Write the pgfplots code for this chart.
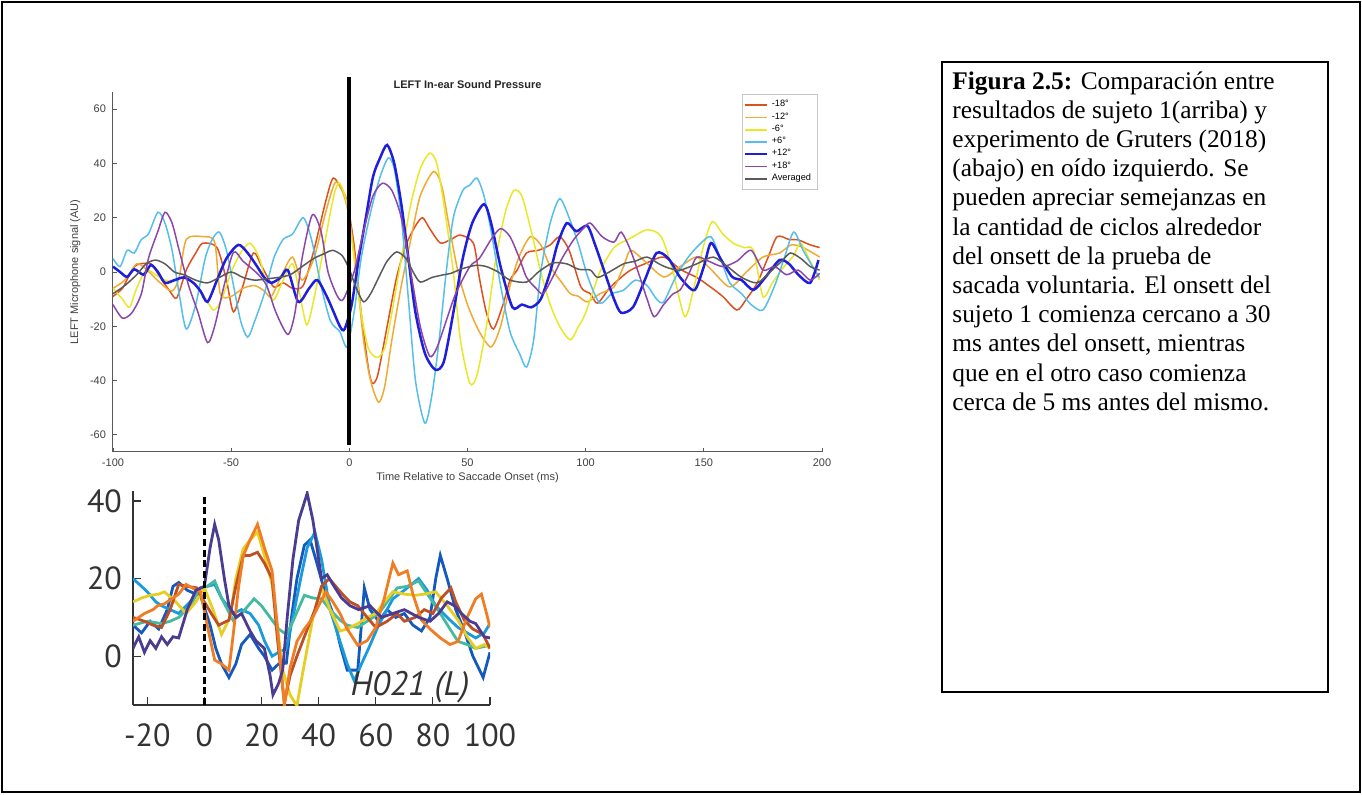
\documentclass[border=0pt]{standalone}
\usepackage{pgfplots}
\pgfplotsset{compat=1.18}
\usepackage{fontspec}
\setmainfont{Liberation Serif}
\newfontfamily\helv{Liberation Sans}
\newfontfamily\myr{PT Sans}

% top chart (MATLAB-like colours)
\definecolor{mA}{RGB}{220,80,30}
\definecolor{mB}{RGB}{240,170,50}
\definecolor{mC}{RGB}{232,232,40}
\definecolor{mD}{RGB}{85,190,235}
\definecolor{mE}{RGB}{30,30,220}
\definecolor{mF}{RGB}{140,70,170}
\definecolor{mG}{RGB}{90,90,90}
% bottom chart (parula-like)
\definecolor{pA}{RGB}{75,60,145}
\definecolor{pB}{RGB}{20,90,190}
\definecolor{pC}{RGB}{25,155,220}
\definecolor{pD}{RGB}{70,185,160}
\definecolor{pE}{RGB}{232,205,35}
\definecolor{pF}{RGB}{240,125,35}
\definecolor{pG}{RGB}{190,80,40}

\begin{document}
\begin{tikzpicture}[x=1pt,y=1pt]
\useasboundingbox (0,0) rectangle (681,397);
\draw[line width=0.8pt] (1,1) rectangle (680,396);

% caption box
\draw[line width=0.8pt] (471,51) rectangle (664,366);
\node[anchor=north west, inner sep=0pt, align=left, font=\fontsize{12.7}{14.6}\selectfont] at (476,361.5) {%
\textbf{Figura 2.5:} Comparación entre\\
resultados de sujeto 1(arriba) y\\
experimento de Gruters (2018)\\
(abajo) en oído izquierdo. Se\\
pueden apreciar semejanzas en\\
la cantidad de ciclos alrededor\\
del onsett de la prueba de\\
sacada voluntaria. El onsett del\\
sujeto 1 comienza cercano a 30\\
ms antes del onsett, mientras\\
que en el otro caso comienza\\
cerca de 5 ms antes del mismo.};

% ---------------- top chart ----------------
\begin{axis}[
    at={(56.5pt,171pt)}, anchor=south west,
    scale only axis, width=354.5pt, height=180pt,
    axis lines=left, axis line style={-, gray!70!black, line width=0.5pt},
    xmin=-100, xmax=200, ymin=-66.3, ymax=66.3,
    xtick={-100,-50,...,200}, ytick={-60,-40,...,60},
    tick align=inside, major tick length=2.2pt,
    tick style={gray!70!black, line width=0.4pt},
    ticklabel style={font=\helv\fontsize{5.5}{6}\selectfont, text=black!75},
    /pgf/number format/assume math mode=true,
    xlabel={Time Relative to Saccade Onset (ms)},
    ylabel={LEFT Microphone signal (AU)},
    label style={font=\helv\fontsize{5.5}{6}\selectfont, text=black!75},
    xlabel style={yshift=4pt},
    ylabel style={yshift=-2pt},
    clip=false,
    legend style={at={(0.887,0.994)}, anchor=north west, draw=gray!45,
        font=\helv\fontsize{4.6}{5}\selectfont, inner sep=1pt,
        row sep=-2.6pt, legend cell align=left},
    legend image code/.code={\draw[#1, line width=0.8pt] (0pt,0pt) -- (11pt,0pt);},
    every axis plot/.append style={line width=0.75pt, smooth, tension=0.45},
]
\addplot[color=mA] coordinates {
(-100,-9)(-96,-6)(-93,-1)(-90,2.6)(-84,3)(-80,-2)(-76,-7)(-73,-9.5)(-69,0.7)(-65,7)
(-62,10.6)(-56,9)(-52,-3)(-49,-14.7)(-45,-5)(-40.6,7)(-37,2)(-32,-5.5)(-28,-4)(-24,-6)
(-19.5,-5)(-15,8)(-10,26)(-6.8,34.6)(-3,30)(-1,26)(2,10)(5,-15)(8,-35)(9.7,-41)
(12,-38)(16,-20)(20,-2)(24,10)(28,17)(31,20)(34,16)(38.5,10.7)(43,12)(47,13.6)
(52.5,10.6)(55,-2)(58,-15)(61,-21)(65,-12)(68,-3)(71,0.7)(75,7)(80,8)(85,10)
(89,13)(93,8)(98,-5.5)(102,-8)(105,-11.5)(110,-6)(115,-2)(119,0.7)(125,3)(133,5.5)
(140,1)(147,-2)(152,-5)(158,-9)(164,-14)(168,-10)(172.6,-4)(177,5)(181,13)(186,12)
(190,11.8)(195,10)(199,9)};
\addlegendentry{-18°}
\addplot[color=mB] coordinates {
(-100,-6)(-95,-3)(-90,3)(-86,1)(-80,-4)(-75,-7)(-72,-2)(-69,12)(-62,13)(-57,11)
(-54.6,-8)(-50,-9)(-45,-6)(-40,-5)(-36,-7)(-33,-9)(-28,0)(-24,5.5)(-20,-3)(-15,5)
(-10,22)(-6,33)(-3,30)(0,20)(3,0)(6,-25)(9,-40)(12.4,-48)(15,-42)(18,-25)
(22,-5)(26,12)(30,28)(35.6,37)(39,32)(42,18)(46,0)(50,-12)(55,-22)(60,-27.6)
(64,-20)(68,-5)(72,6)(76.6,13)(81,10)(85,2)(90,-4)(93.5,-8)(97,-9)(100.7,-11)
(106,-8)(112,-5.5)(116,2)(119,8)(125,4)(133,-1.8)(140,2)(147,5.5)(153,1)(161,-5.5)
(168,0)(175,5.5)(182,7)(187,10)(192,9)(199,5.5)};
\addlegendentry{-12°}
\addplot[color=mC] coordinates {
(-100,-6)(-96,-10)(-93,-13)(-90,-6)(-86,0.7)(-82,-1)(-78,-3)(-74,-3)(-70,-2)(-66,-4)
(-62,-8)(-57.5,-14)(-54,-10)(-50,0)(-46,7)(-42,10.6)(-38,5)(-35,-5)(-32,-10.3)(-28,-3)
(-24,3)(-21,-8)(-18,-19.5)(-15,-10)(-11,8)(-8,22)(-6,30)(-4,32.7)(-1,25)(2,5)
(5,-15)(8,-28)(11.7,-31.5)(15,-28)(18,-15)(22,5)(26,25)(30,38)(34,43.8)(37,40)
(40,25)(44,0)(47,-25)(51,-41)(54,-38)(58,-20)(62,5)(66,22)(69.6,30)(73,28)
(77,15)(81,0)(85,-12)(89,-20)(93.5,-25)(97,-20)(100,-15)(106,0)(112,9)(118,12)
(126,15.5)(132,13)(137,0)(142,-16.5)(146,-5)(150,10)(153.6,18.6)(158,14)(162.5,10.6)(167,9)
(171,8)(175,-9)(179,-4)(184,2)(188,6)(191,10.6)(195,4)(199,-3)};
\addlegendentry{-6°}
\addplot[color=mD] coordinates {
(-100,5)(-97,2)(-94,8)(-91,7)(-88,12)(-85,14)(-81,22)(-78,18)(-75,8)(-72,-8)
(-69,-21)(-65,-12)(-61,5)(-58,12)(-55,14.7)(-52,8)(-49,-5)(-46,-18)(-43,-24)(-40,-18)
(-36,-8)(-32,5)(-28,12)(-24,14)(-19.5,20)(-16,12)(-12,-5)(-8,-18)(-4,-22)(-1,-27.6)
(2,-15)(5,5)(9,22)(13,35)(16.5,42)(19,38)(22,20)(25,-10)(28,-40)(32,-55.7)
(35,-45)(38,-25)(41,0)(44,20)(48,30)(51,32)(54,34.6)(57,28)(60,15)(64,-5)
(68,-22)(72,-30)(75,-35)(78,-25)(81,0)(85,18)(89,27)(93,20)(97,10)(101,-2)
(106,-11.5)(111,-8)(116,-6.7)(121,-3)(126,-5)(130,-10)(133,-11)(138,-2)(143,5)(148,10)
(153,13)(157,5)(161,-4)(166,-8)(170,-12)(175,-14)(180,-5)(184,5)(188,14.7)(192,8)
(196,2)(199,-2)};
\addlegendentry{+6°}
\addplot[color=mE, line width=1.25pt] coordinates {
(-100,2)(-97,0)(-94,-1.8)(-91,1)(-87,-1)(-84,2.6)(-81,0)(-78,-4)(-74,-3)(-70,-2)
(-66,-4)(-63,-7)(-60,-11)(-56,-3)(-52,5)(-47,10)(-43,7)(-39,2)(-36,-2)(-33,-4)
(-29,-2)(-26,0.7)(-21.6,-11)(-17,-6)(-13.5,-3)(-9,-10)(-4,-20)(-2,-21)(1,-12)(4,5)
(7,20)(10,35)(13,42)(16,46.8)(19,40)(22,25)(25,5)(28,-15)(32,-30)(36.4,-36)
(40,-33)(44,-15)(48,5)(52,18)(57,25)(60,18)(64,2)(69,-13)(73,-12)(77,-13)
(81,-10)(85,0)(88,10)(92,18)(96,15)(100.7,17)(104,10)(108,0)(112,-10)(115,-15)
(120,-13)(125,-3)(130,7)(135,5)(140,-2)(146,-6.7)(150,2)(153,10.7)(157,5)(162,-1.8)
(166,-3)(171,-6.6)(176,-2)(182,4.4)(186,3)(190,-1)(195,-4)(198.5,4.4)};
\addlegendentry{+12°}
\addplot[color=mF] coordinates {
(-100,-12)(-96,-17)(-92,-15)(-88,-8)(-85,5)(-81,15)(-78,22)(-75,18)(-72,8)(-68,-5)
(-64,-15)(-60,-26)(-57,-20)(-53,-5)(-49,7.3)(-45,4)(-39,-0.5)(-35,-5)(-31,-15)(-26,-23)
(-23,-15)(-20,5)(-15.7,21)(-12,15)(-9,0)(-5,-9)(-2.5,-10)(2,0)(6,15)(10,28)
(14,32.7)(18,30)(22,20)(26,0)(30,-20)(34,-31)(37,-28)(41,-18)(45,-8)(51,2)
(55,5)(60,12)(64,16)(68,13)(72,5)(75,-2)(79,-6)(82,-8)(86,-2)(90,5)
(95,12)(99,16)(102,18)(107,13)(112,11)(115,14.7)(119,8)(123,-2)(126,-10)(129,-16.5)
(133,-12)(137,-8)(140,-6.6)(144,0)(147,5.5)(152,4)(158,2)(164,4)(170,8)(175,0.7)
(180,2)(185,-1)(190,0.7)(195,-3)(199,-0.5)};
\addlegendentry{+18°}
\addplot[color=mG] coordinates {
(-100,-8)(-95,-5)(-90,-1)(-86,3)(-82,4.4)(-78,3)(-74,0)(-70,-1)(-65,-3)(-60,-4)
(-55,-2)(-50,0)(-45,-2)(-40,-3)(-35,-2.5)(-30,-2)(-25,-1)(-20,2)(-15,5)(-10,7)
(-7,8)(-3,6)(0,1)(3,-6)(6,-11)(9,-8)(13,-1)(16,4)(20,7.4)(24,5)
(27,0)(30,-3.7)(35,-2)(40,-1)(43,-0.5)(47,1)(51,2)(54,2.5)(58,2)(63,0)
(68,-3)(75,-3.7)(80,0)(86,3.3)(92,3)(97,1)(102,0.7)(105,-2)(110,0)(116,3)
(121,4)(126,5.5)(131,3)(135,1.5)(140,0.7)(147,3)(154,5.5)(160,2)(166,-2)(172.6,-4)
(178,0)(183,4)(186.6,7)(191,5)(195,2)(199,0.7)};
\addlegendentry{Averaged}
\addplot[black, line width=2pt, sharp plot, forget plot] coordinates {(0,-63.7)(0,71.8)};
\node[font=\helv\bfseries\fontsize{5.5}{6}\selectfont, text=black!85, anchor=base] at (rel axis cs:0.5,1) [yshift=2pt] {LEFT In-ear Sound Pressure};
\end{axis}

% ---------------- bottom chart ----------------
\begin{axis}[
    at={(66.5pt,44.5pt)}, anchor=south west,
    scale only axis, width=178.5pt, height=107pt,
    axis lines=left, axis line style={-, black!80, line width=0.6pt},
    xmin=-25, xmax=100, ymin=-12.6, ymax=42.6,
    xtick={-20,0,...,100}, ytick={0,20,40},
    tick align=inside, major tick length=4pt,
    tick style={black!80, line width=0.6pt},
    ticklabel style={font=\myr\fontsize{16}{17}\selectfont, text=black!80},
    yticklabel style={xshift=-2pt},
    xticklabel style={yshift=-6pt},
    /pgf/number format/assume math mode=true,
    every axis plot/.append style={line width=1.4pt},
]
\addplot[pB] coordinates {
(-25,8)(-22,6)(-19,9)(-16,7)(-13,12)(-11,18)(-9,19)(-6,17)(-3,16)(-1.4,15.7)
(2,8)(4,2)(6,-2)(8.6,-5.5)(11,-2)(13,3)(16,5.6)(19,2)(21,0)(23.7,-3.6)
(26,-2)(28.7,-1.8)(30.5,10)(32.4,20)(35,28.6)(37,30)(39,25)(42,17)(45,11)(47.5,3)
(50,-3.6)(53.7,-3.6)(56,17.6)(58,12)(61,9)(64,12)(67,10)(70,11)(73,8)(76,6.5)
(79,10)(81,20)(82.6,26)(85,20)(88,12)(91,6.5)(94,0)(97.6,-5.5)(100,1)};
\addplot[pC] coordinates {
(-25,20)(-22,18)(-20,16.6)(-17,14)(-15,13)(-12,12)(-9,11)(-5,14)(-1.4,17.6)(1,18)
(3.6,18.5)(6,15)(10,11)(13,12)(16,11)(19,8)(21,4)(23.7,0)(26,1)(28.7,2)
(31,10)(33.7,20)(36,28)(38.7,32)(41,25)(44,12)(47.5,3.8)(50,-2)(52.5,-6.4)(55,-2)
(57.5,2)(61,8)(66,14.8)(70,17)(75,20)(78,17)(81,13)(85,10)(88.8,7.4)(92,6)
(95,4.7)(98,6)(100,8.4)};
\addplot[pD] coordinates {
(-25,8)(-20,9)(-15,8.4)(-12,9)(-9,10)(-5,13)(-1.4,17.6)(1,18)(3.6,19.4)(6,15)
(10,9.3)(13,11)(17.4,14.8)(20,13)(23.7,9.3)(26,7)(28.7,5.6)(31,9)(35,15.7)(38,15)
(41,14.8)(44,12)(47.5,9.3)(50,8)(53.7,7.4)(57,9)(61,11)(64,14)(67.5,17.6)(71,18)
(75,19.4)(79,15)(82.6,11)(86,7)(88.8,3.8)(92,3)(95,2)(98,2.5)(100,2.8)};
\addplot[pE] coordinates {
(-25,14)(-22,15)(-19,15.7)(-16,16)(-14,16.6)(-10,14)(-6.4,11)(-3,14)(0,17.6)(3,12)
(6,5.6)(9,10)(11,20)(13.6,27.7)(16,30)(18.6,32)(21,26)(23.7,18.5)(25.5,8)(27.4,-3.6)
(30,-10)(32.4,-12.8)(34,-6)(36,2)(38,10)(41,17.6)(44,12)(47.5,6.5)(50,7)(53.7,8.4)
(57,10)(60,11)(63,14)(66,16.6)(70,16)(73.8,15.7)(77,16)(81,16.6)(85,13)(88.8,9.3)
(92,5)(95,2)(98,3)(100,2)};
\addplot[pG] coordinates {
(-25,10)(-21,9)(-18,8)(-15,7.4)(-12,12)(-9,18.5)(-6,18)(-2.6,17.6)(0,14)(2.4,11)
(5,8)(8.6,9.3)(11,18)(13.6,25.9)(16,26)(18.6,26.8)(21,24)(23.7,20)(25.5,5)(28,-12)
(30,-5)(32.4,0)(35,5)(38.7,12)(41,18)(43.7,20)(46,18)(48.7,15.7)(51,14)(53.7,13)
(57,10)(60,7.4)(64,9)(67.5,11)(70,9)(73.8,10)(77,12)(80,11)(83,15)(86.3,17.6)
(88,14)(91,9.3)(94,7)(97.6,5.6)(100,2)};
\addplot[pF] coordinates {
(-25,9)(-21,11)(-18,12)(-16.4,13)(-14,13.5)(-11.4,14.8)(-9,16)(-6.4,18.5)(-4,17.5)(-1.4,16.6)
(1,8)(3.6,-1)(6,-2)(8.6,-3.6)(10,5)(12,18)(13.6,25.9)(16,30)(18.6,34)(21,28)
(23.7,22)(25.5,8)(28,-12.8)(30,-3)(32.4,3.8)(35,7)(37.4,9.3)(40,13)(42.5,16.6)(45,14)
(47.5,11)(50,7)(53.7,2.8)(57,4)(60,7.4)(63,15)(66,24)(68,21)(71,22)(73,16)
(76,9.3)(79,7)(82.6,4.7)(86,3)(88.8,3.8)(92,10)(95,14.8)(97,16)(98.8,11)(100,7.4)};
\addplot[pA] coordinates {
(-25,2)(-23,5)(-21,1)(-19,4)(-17,2)(-15,5)(-13,3)(-11,5)(-9,4.7)(-6,12)
(-3,17)(0,18)(2,28)(3.6,34)(5,30)(7,20)(8.6,13)(11,10)(13,11)(16,6.5)
(18,4)(21,2)(23,-5)(24,-10)(26,-7)(27.4,-3.6)(29,10)(31,25)(33,35)(36,42)
(38,35)(41,20)(43,21)(45,18.5)(48,15)(51,13)(54,12)(58,13)(62,10)(66,11)
(70,12)(75,10)(79,9)(82,11)(85,14)(87.6,13)(90,11)(93,9)(95,8.4)(98,5)(100,4.7)};
\addplot[black, line width=1.7pt, dash pattern=on 3.5pt off 1.8pt] coordinates {(0,-12.6)(0,41)};
\node[font=\myr\itshape\fontsize{17}{18}\selectfont, text=black!80] at (axis cs:72,-8) {H021 (L)};
\end{axis}
\end{tikzpicture}
\end{document}
